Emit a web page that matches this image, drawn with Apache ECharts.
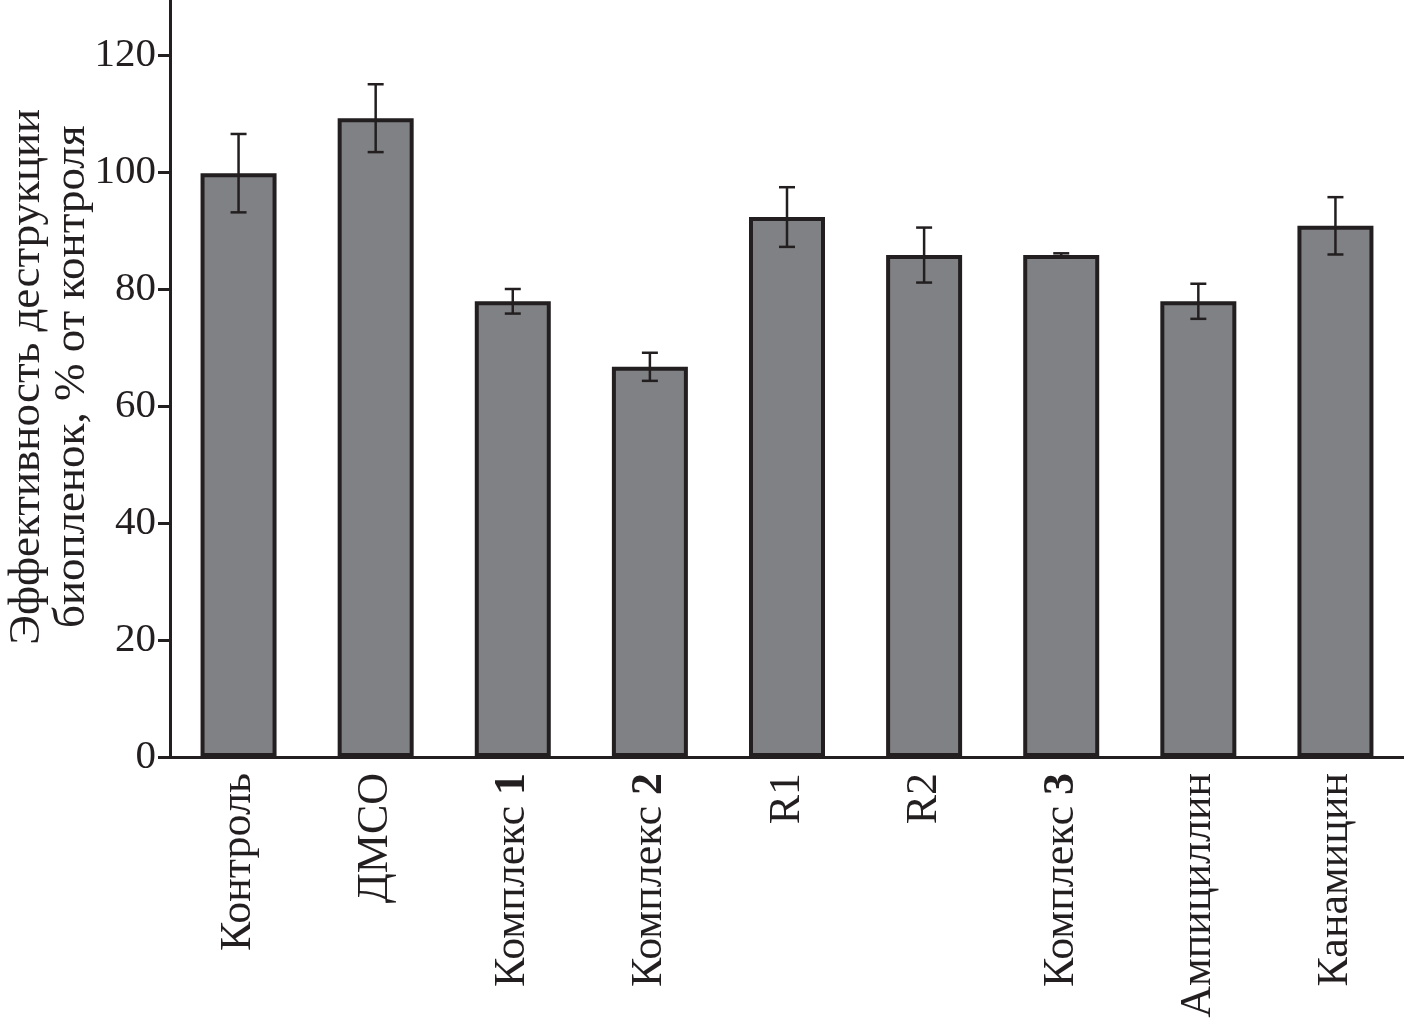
<!DOCTYPE html>
<html><head><meta charset="utf-8">
<script src="https://cdn.jsdelivr.net/npm/echarts@6/dist/echarts.min.js"></script>
<style>html,body{margin:0;padding:0;background:#fff}#c{width:1404px;height:1018px}</style>
</head><body><div id="c"></div>
<script>
const categories = ['Контроль','ДМСО','Комплекс 1','Комплекс 2','R1','R2','Комплекс 3','Ампициллин','Канамицин'];
const values = [99.8, 109.2, 77.9, 66.7, 92.3, 85.8, 85.8, 77.9, 90.8];
const errors = [6.7, 5.8, 2.1, 2.4, 5.1, 4.7, 0.3, 3.0, 4.9];
const yTicks = [0, 20, 40, 60, 80, 100, 120];

const ink = '#231f20';
const font = '"Liberation Serif", "Times New Roman", Times, serif';
const chart = echarts.init(document.getElementById('c'));
chart.setOption({
  animation: false,
  grid: { left: 170, right: 0, top: -3.5, bottom: 261, outerBoundsMode: 'none', containLabel: false },
  xAxis: {
    type: 'category', data: categories,
    axisLine: { lineStyle: { color: ink, width: 3 } },
    axisTick: { inside: true, length: 14, lineStyle: { color: ink, width: 3 } },
    axisLabel: {
      rotate: 90, margin: 16, color: ink, fontFamily: font, fontSize: 44,
      formatter: function (v) {
        const m = /^(Комплекс )(\d)$/.exec(v);
        return m ? m[1] + '{b|' + m[2] + '}' : v;
      },
      rich: { b: { fontWeight: 'bold', fontFamily: font, fontSize: 44, color: ink } }
    }
  },
  yAxis: {
    type: 'value', min: 0, max: 130, interval: 20,
    name: 'Эффективность деструкции\nбиопленок, % от контроля',
    nameLocation: 'middle', nameRotate: 90, nameGap: 75, nameMoveOverlap: false,
    nameTextStyle: { color: ink, fontFamily: font, fontSize: 45, lineHeight: 45 },
    splitLine: { show: false },
    axisLine: { show: true, lineStyle: { color: ink, width: 3 } },
    axisTick: { show: true, length: 12, customValues: yTicks, lineStyle: { color: ink, width: 3 } },
    axisLabel: { margin: 14, customValues: yTicks, color: ink, fontFamily: font, fontSize: 41 }
  },
  series: [
    {
      type: 'bar', data: values, barWidth: 76,
      itemStyle: { color: '#808184', borderColor: ink, borderWidth: 4 }
    },
    {
      type: 'custom',
      data: values.map((v, i) => [i, v - errors[i], v + errors[i]]),
      renderItem: function (params, api) {
        const lo = api.coord([api.value(0), api.value(1)]);
        const hi = api.coord([api.value(0), api.value(2)]);
        const hw = 8;
        const st = { stroke: ink, lineWidth: 2.5 };
        return { type: 'group', children: [
          { type: 'line', shape: { x1: lo[0], y1: lo[1], x2: hi[0], y2: hi[1] }, style: st },
          { type: 'line', shape: { x1: lo[0]-hw, y1: lo[1], x2: lo[0]+hw, y2: lo[1] }, style: st },
          { type: 'line', shape: { x1: hi[0]-hw, y1: hi[1], x2: hi[0]+hw, y2: hi[1] }, style: st }
        ]};
      },
      z: 5
    }
  ]
});
</script></body></html>
